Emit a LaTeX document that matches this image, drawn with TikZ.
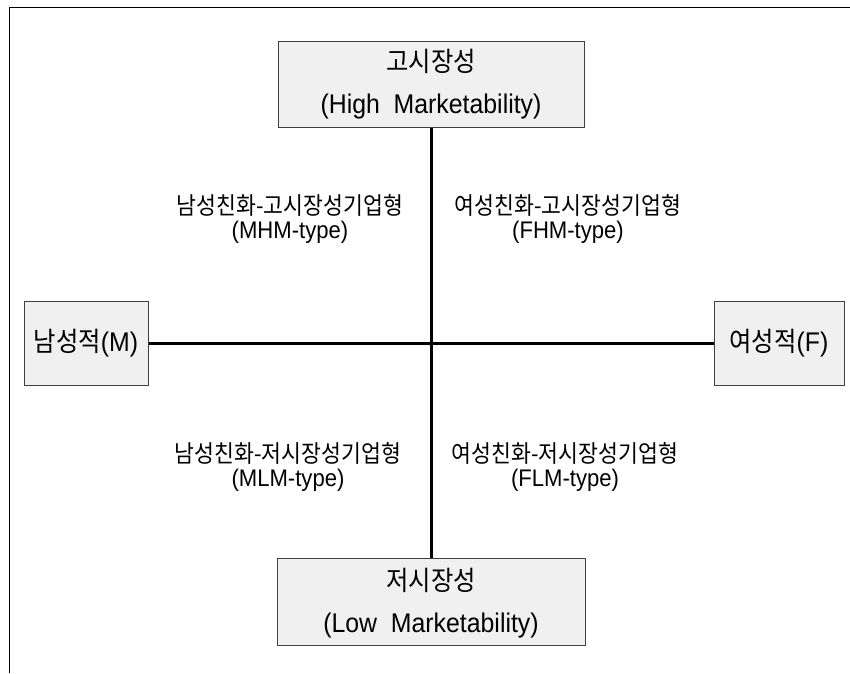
\documentclass[tikz,border=0pt]{standalone}
\usepackage{fontspec}
\setmainfont{Liberation Sans}[FakeStretch=0.92]
\newfontfamily\kr{Noto Sans CJK KR}[FakeStretch=0.9]
\begin{document}
\begin{tikzpicture}[x=1pt,y=-1pt,
  catbox/.style={draw=black!75, line width=1pt, fill=black!6, inner sep=0pt, align=center},
  bigtext/.style={font=\fontsize{27}{42}\selectfont},
  quadlabel/.style={inner sep=0pt, align=center, font=\fontsize{24}{24}\selectfont},
  axisline/.style={line width=3pt},
  frameline/.style={line width=1.5pt}]
\useasboundingbox (0,0) rectangle (850,673);
% partial frame
\coordinate (fa) at (850,7.5);
\coordinate (fb) at (9.5,7.5);
\coordinate (fc) at (9.5,673);
\draw[frameline] (fa) -- (fb) -- (fc);
% boxes
\node[catbox, bigtext, minimum width=306, minimum height=86] (high) at (431,84) {{\kr 고시장성}\\(High\ \ Marketability)};
\node[catbox, bigtext, minimum width=308, minimum height=87, text depth=3pt] (low) at (431,601.5) {{\kr 저시장성}\\(Low\ \ Marketability)};
\node[catbox, bigtext, minimum width=124, minimum height=84] (male) at (86,343) {{\kr 남성적}(M)};
\node[catbox, bigtext, minimum width=130, minimum height=84] (female) at (779,343) {{\kr 여성적}(F)};
% axes
\draw[axisline] (high.south) -- (low.north);
\draw[axisline] (male.east) -- (female.west);
% quadrant labels
\node[quadlabel] (mhm) at (290,219) {{\kr 남성친화-고시장성기업형}\\(MHM-type)};
\node[quadlabel] (fhm) at (568,219) {{\kr 여성친화-고시장성기업형}\\(FHM-type)};
\node[quadlabel] (mlm) at (288,467) {{\kr 남성친화-저시장성기업형}\\(MLM-type)};
\node[quadlabel] (flm) at (565,467) {{\kr 여성친화-저시장성기업형}\\(FLM-type)};
\end{tikzpicture}
\end{document}
